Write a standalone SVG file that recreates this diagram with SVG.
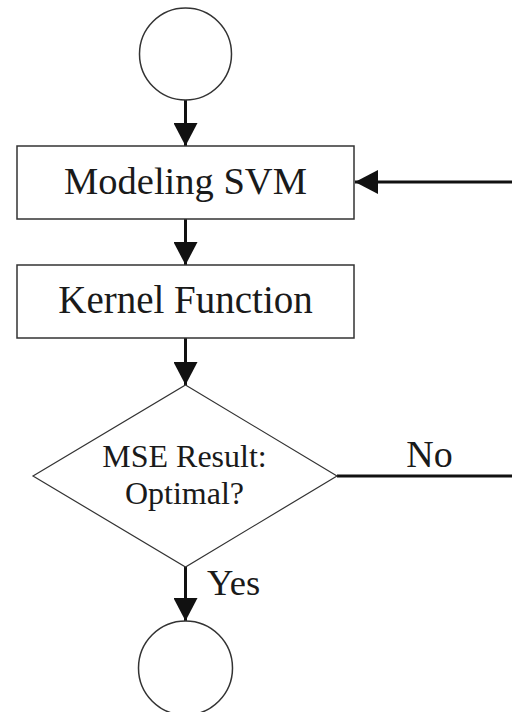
<svg xmlns="http://www.w3.org/2000/svg" width="512" height="712" viewBox="0 0 512 712">
  <style>
    .shape { fill: #ffffff; stroke: #333333; stroke-width: 1.5; }
    .conn { fill: none; stroke: #111111; stroke-width: 3; }
    .t { font-family: "Liberation Serif", "Times New Roman", serif; fill: #1a1a1a; text-anchor: middle; }
  </style>
  <defs>
    <marker id="arr" markerUnits="userSpaceOnUse" markerWidth="24" markerHeight="24" refX="23" refY="12" orient="auto" viewBox="0 0 24 24">
      <path d="M0,0 L23,12 L0,24 z" fill="#111111"/>
    </marker>
  </defs>
  <rect width="512" height="712" fill="#ffffff"/>

  <g id="connectors">
    <line class="conn" x1="185.5" y1="100" x2="185.5" y2="146" marker-end="url(#arr)"/>
    <line class="conn" x1="185.5" y1="219" x2="185.5" y2="265" marker-end="url(#arr)"/>
    <line class="conn" x1="185.5" y1="338" x2="185.5" y2="385" marker-end="url(#arr)"/>
    <line class="conn" x1="185.5" y1="567" x2="185.5" y2="621" marker-end="url(#arr)"/>
    <line class="conn" x1="337" y1="476" x2="512" y2="476"/>
    <line class="conn" x1="512" y1="182" x2="355" y2="182" marker-end="url(#arr)"/>
    <text class="t" x="429.5" y="467" font-size="38">No</text>
    <text class="t" x="207" y="595" font-size="36.5" style="text-anchor:start">Yes</text>
  </g>

  <g id="start">
    <circle class="shape" cx="185.5" cy="54" r="46"/>
  </g>

  <g id="modeling">
    <rect class="shape" x="17" y="146" width="337" height="73"/>
    <text class="t" x="185.5" y="194" font-size="38.5">Modeling SVM</text>
  </g>

  <g id="kernel">
    <rect class="shape" x="17" y="265" width="337" height="73"/>
    <text class="t" x="185.5" y="313" font-size="39">Kernel Function</text>
  </g>

  <g id="decision">
    <polygon class="shape" style="stroke-width:1.2" points="185.5,385 337,476 185.5,567 33,476"/>
    <text class="t" x="184.5" y="467" font-size="32">MSE Result:</text>
    <text class="t" x="184.5" y="504" font-size="32">Optimal?</text>
  </g>

  <g id="end">
    <circle class="shape" cx="185.5" cy="668" r="47"/>
  </g>
</svg>
